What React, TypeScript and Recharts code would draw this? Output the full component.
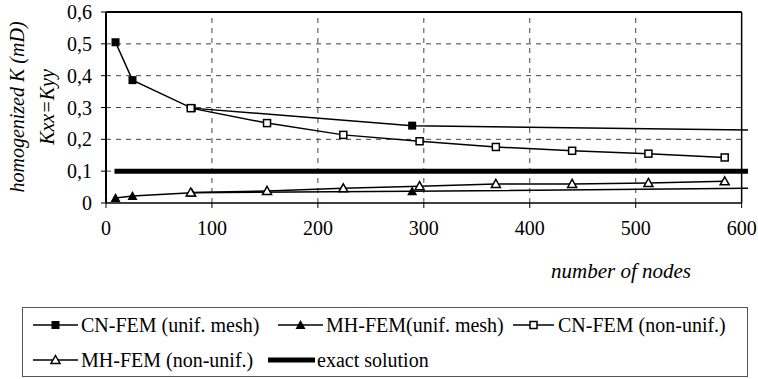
import React from 'react';
import { LineChart, Line, XAxis, YAxis, ReferenceLine, Legend } from 'recharts';

// ---- data ----
const xTicks = [0, 100, 200, 300, 400, 500, 600];
const yTicks = [0, 0.1, 0.2, 0.3, 0.4, 0.5, 0.6];
const yTickLabels = ['0', '0,1', '0,2', '0,3', '0,4', '0,5', '0,6'];
const X_MAX = 600; // last labelled tick / plot frame
const X_EDGE = 606; // lines run slightly past the frame

const cnUnifNodes = [9, 25, 81, 289, 606];
const cnUnifK = [0.505, 0.386, 0.298, 0.243, 0.229];

const mhUnifNodes = [9, 25, 81, 289, 606];
const mhUnifK = [0.016, 0.022, 0.032, 0.037, 0.046];

const cnNonNodes = [80, 152, 224, 296, 368, 440, 512, 584];
const cnNonK = [0.298, 0.251, 0.214, 0.194, 0.176, 0.164, 0.155, 0.143];

const mhNonNodes = [80, 152, 224, 296, 368, 440, 512, 584];
const mhNonK = [0.033, 0.038, 0.046, 0.053, 0.06, 0.06, 0.063, 0.068];

const exactNodes = [8, 606];
const exactK = [0.1, 0.1];

const seriesNames = [
  'CN-FEM (unif. mesh)',
  'MH-FEM(unif. mesh)',
  'CN-FEM (non-unif.)',
  'MH-FEM (non-unif.)',
  'exact solution',
];

const toRows = (nodes: number[], k: number[]) => nodes.map((n, i) => ({ nodes: n, k: k[i] }));

const cnUnif = toRows(cnUnifNodes, cnUnifK);
const mhUnif = toRows(mhUnifNodes, mhUnifK);
const cnNon = toRows(cnNonNodes, cnNonK);
const mhNon = toRows(mhNonNodes, mhNonK);
const exact = toRows(exactNodes, exactK);

const FONT = 'Liberation Serif, Times New Roman, serif';

type Shape = 'filledSquare' | 'openSquare' | 'filledTriangle' | 'openTriangle' | 'none';

const drawShape = (shape: Shape, cx: number, cy: number, key?: any) => {
  switch (shape) {
    case 'filledSquare':
      return <rect key={key} x={cx - 4} y={cy - 4} width={8} height={8} fill="#000" />;
    case 'openSquare':
      return <rect key={key} x={cx - 3.5} y={cy - 3.5} width={7} height={7} fill="#fff" stroke="#000" strokeWidth={1.5} />;
    case 'filledTriangle':
      return (
        <polygon key={key} points={`${cx},${cy - 5} ${cx + 5},${cy + 4} ${cx - 5},${cy + 4}`} fill="#000" />
      );
    case 'openTriangle':
      return (
        <polygon
          key={key}
          points={`${cx},${cy - 4.5} ${cx + 4.5},${cy + 3.5} ${cx - 4.5},${cy + 3.5}`}
          fill="#fff"
          stroke="#000"
          strokeWidth={1.5}
        />
      );
    default:
      return <g key={key} />;
  }
};

const makeDot = (shape: Shape) => (props: any) => {
  const { cx, cy, payload, index } = props;
  if (payload == null || payload.nodes > X_MAX || cx == null || cy == null) return <g key={`d${index}`} />;
  return drawShape(shape, cx, cy, `d${index}`);
};

const legendItems: { name: string; shape: Shape; row: number; symLeft: number; symWidth: number; textLeft: number; thick?: boolean }[] = [
  { name: seriesNames[0], shape: 'filledSquare', row: 0, symLeft: 10, symWidth: 45, textLeft: 58 },
  { name: seriesNames[1], shape: 'filledTriangle', row: 0, symLeft: 255, symWidth: 45, textLeft: 303 },
  { name: seriesNames[2], shape: 'openSquare', row: 0, symLeft: 490, symWidth: 41, textLeft: 535 },
  { name: seriesNames[3], shape: 'openTriangle', row: 1, symLeft: 10, symWidth: 45, textLeft: 58 },
  { name: seriesNames[4], shape: 'none', row: 1, symLeft: 245, symWidth: 47, textLeft: 294, thick: true },
];

const rowCenters = [18, 53];

const renderLegend = () => (
  <div
    style={{
      position: 'relative',
      width: 726,
      height: 70,
      border: '1px solid #555',
      boxSizing: 'border-box',
      background: '#fff',
      fontFamily: FONT,
      fontSize: 20,
      color: '#000',
    }}
  >
    {legendItems.map((it) => (
      <React.Fragment key={it.name}>
        <svg
          width={it.symWidth}
          height={20}
          style={{ position: 'absolute', left: it.symLeft, top: rowCenters[it.row] - 10 - 1 }}
        >
          <line x1={0} y1={10} x2={it.symWidth} y2={10} stroke="#000" strokeWidth={it.thick ? 5 : 1.5} />
          {drawShape(it.shape, it.symWidth / 2, 10)}
        </svg>
        <span
          style={{
            position: 'absolute',
            left: it.textLeft,
            top: rowCenters[it.row] - 12 - 1,
            height: 24,
            lineHeight: '24px',
            whiteSpace: 'nowrap',
          }}
        >
          {it.name}
        </span>
      </React.Fragment>
    ))}
  </div>
);

export default function App() {
  const tickStyle = { fill: '#000', fontSize: 20, fontFamily: FONT };
  return (
    <div style={{ position: 'absolute', left: 0, top: 0, width: 758, height: 379, background: '#fff' }}>
      <LineChart width={758} height={379} margin={{ top: 12, right: 10, left: 0, bottom: 136 }}>
        <XAxis
          type="number"
          dataKey="nodes"
          domain={[0, X_EDGE]}
          ticks={xTicks}
          allowDataOverflow
          axisLine={false}
          tickLine={{ stroke: '#000' }}
          tickSize={5}
          tickMargin={13}
          tick={tickStyle}
          height={40}
          interval={0}
        />
        <YAxis
          type="number"
          dataKey="k"
          domain={[0, 0.6]}
          ticks={yTicks}
          allowDataOverflow
          tickFormatter={(v: number, i: number) => yTickLabels[i]}
          width={106}
          axisLine={{ stroke: '#000', strokeWidth: 2 }}
          tickLine={{ stroke: '#000' }}
          tickSize={5}
          tickMargin={9}
          tick={tickStyle}
          interval={0}
        />
        {yTicks.slice(1, -1).map((v) => (
          <ReferenceLine
            key={`h${v}`}
            segment={[{ x: 0, y: v }, { x: X_MAX, y: v }]}
            stroke="#444"
            strokeWidth={1}
            strokeDasharray="5 5"
          />
        ))}
        {xTicks.slice(1, -1).map((v) => (
          <ReferenceLine
            key={`v${v}`}
            segment={[{ x: v, y: 0 }, { x: v, y: 0.6 }]}
            stroke="#444"
            strokeWidth={1}
            strokeDasharray="5 5"
          />
        ))}
        <ReferenceLine segment={[{ x: 0, y: 0.6 }, { x: X_MAX, y: 0.6 }]} stroke="#000" strokeWidth={2} />
        <ReferenceLine segment={[{ x: X_MAX, y: 0 }, { x: X_MAX, y: 0.6 }]} stroke="#000" strokeWidth={1.5} />
        <ReferenceLine segment={[{ x: 0, y: 0 }, { x: X_MAX, y: 0 }]} stroke="#000" strokeWidth={1.5} />

        <Line
          data={exact}
          dataKey="k"
          name={seriesNames[4]}
          type="linear"
          stroke="#000"
          strokeWidth={5}
          dot={false}
          activeDot={false}
          isAnimationActive={false}
        />
        <Line
          data={cnUnif}
          dataKey="k"
          name={seriesNames[0]}
          type="linear"
          stroke="#000"
          strokeWidth={1.5}
          dot={makeDot('filledSquare')}
          activeDot={false}
          isAnimationActive={false}
        />
        <Line
          data={mhUnif}
          dataKey="k"
          name={seriesNames[1]}
          type="linear"
          stroke="#000"
          strokeWidth={1.5}
          dot={makeDot('filledTriangle')}
          activeDot={false}
          isAnimationActive={false}
        />
        <Line
          data={cnNon}
          dataKey="k"
          name={seriesNames[2]}
          type="linear"
          stroke="#000"
          strokeWidth={1.5}
          dot={makeDot('openSquare')}
          activeDot={false}
          isAnimationActive={false}
        />
        <Line
          data={mhNon}
          dataKey="k"
          name={seriesNames[3]}
          type="linear"
          stroke="#000"
          strokeWidth={1.5}
          dot={makeDot('openTriangle')}
          activeDot={false}
          isAnimationActive={false}
        />

        <text
          x={17}
          y={107}
          transform="rotate(-90 17 107)"
          textAnchor="middle"
          dominantBaseline="central"
          fontStyle="italic"
          fontSize={20}
          fontFamily={FONT}
          fill="#000"
        >
          homogenized K (mD)
        </text>
        <text
          x={47}
          y={107}
          transform="rotate(-90 47 107)"
          textAnchor="middle"
          dominantBaseline="central"
          fontStyle="italic"
          fontSize={20}
          fontFamily={FONT}
          fill="#000"
        >
          Kxx=Kyy
        </text>
        <text x={621} y={278} textAnchor="middle" fontStyle="italic" fontSize={21} fontFamily={FONT} fill="#000">
          number of nodes
        </text>

        <Legend
          layout="horizontal"
          verticalAlign="middle"
          align="center"
          content={renderLegend}
          wrapperStyle={{ left: 22, top: 307, width: 726, height: 70 }}
        />
      </LineChart>
    </div>
  );
}
